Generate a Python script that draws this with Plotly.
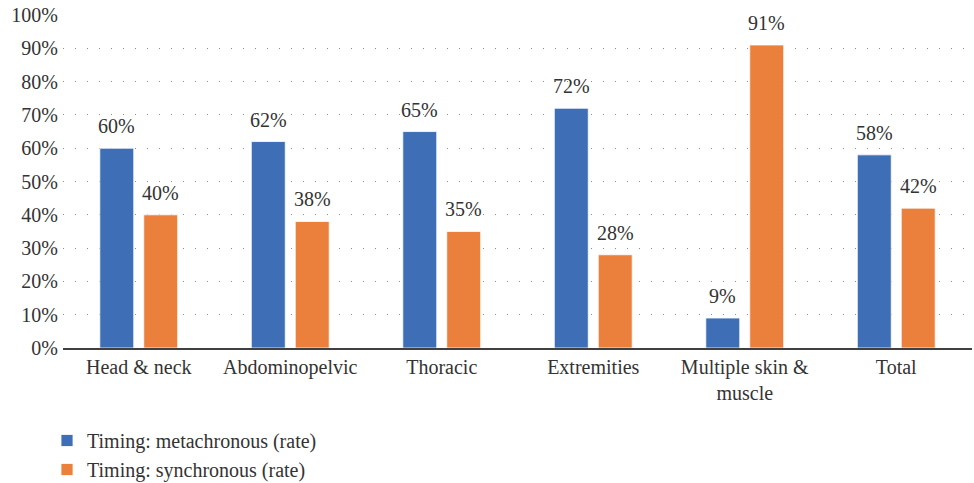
import plotly.graph_objects as go

categories = ["Head & neck", "Abdominopelvic", "Thoracic", "Extremities",
              "Multiple skin &<br>muscle", "Total"]
metachronous = [60, 62, 65, 72, 9, 58]
synchronous = [40, 38, 35, 28, 91, 42]
y_ticks = list(range(0, 101, 10))
y_tick_labels = [f"{v}%" for v in y_ticks]

FONT = "Liberation Serif"
FS = 20
BLUE = "#3D6EB6"
ORANGE = "#EB7F3C"
TEXT = "#333333"

W, H = 974, 483
M_L, M_R, M_T, M_B = 63, 2, 15, 135
PLOT_W = W - M_L - M_R
PLOT_H = H - M_T - M_B
SLOT_OFFSET = 22  # half of one bar slot inside a group, in pixels


def bar(values, name, color):
    return go.Bar(
        x=categories, y=values, name=name,
        marker=dict(color=color, line=dict(color="white", width=0.8)),
    )


fig = go.Figure()
fig.add_trace(bar(metachronous, "Timing: metachronous (rate)", BLUE))
fig.add_trace(bar(synchronous, "Timing: synchronous (rate)", ORANGE))

# value labels above each bar
for values, shift in ((metachronous, -SLOT_OFFSET), (synchronous, SLOT_OFFSET)):
    for cat, v in zip(categories, values):
        fig.add_annotation(
            x=cat, y=v, xref="x", yref="y", text=f"{v}%",
            showarrow=False, xanchor="center", yanchor="bottom",
            xshift=shift, yshift=9,
            font=dict(family=FONT, size=FS, color=TEXT),
        )

fig.update_layout(
    width=W, height=H,
    margin=dict(l=M_L, r=M_R, t=M_T, b=M_B, autoexpand=False),
    paper_bgcolor="white", plot_bgcolor="white",
    barmode="group", bargap=0.42, bargroupgap=0.227,
    font=dict(family=FONT, size=FS, color=TEXT),
    showlegend=True,
    legend=dict(
        x=(47 - M_L) / PLOT_W, y=(H - M_B - 421) / PLOT_H,
        xanchor="left", yanchor="top",
        orientation="v", font=dict(family=FONT, size=FS, color=TEXT),
        tracegroupgap=0, bgcolor="rgba(0,0,0,0)",
    ),
    xaxis=dict(
        showline=True, linecolor="#404040", linewidth=1.5,
        showgrid=False, ticks="", tickfont=dict(size=FS),
        tickangle=0, automargin=False,
    ),
    yaxis=dict(
        range=[0, 100], tickvals=y_ticks, ticktext=y_tick_labels,
        showgrid=True, gridcolor="#8c8c8c", gridwidth=1, griddash="1px,11px",
        zeroline=False, showline=False, ticks="", tickfont=dict(size=FS),
        automargin=False, ticklabelstandoff=4,
    ),
)

fig.write_html("out.html")
